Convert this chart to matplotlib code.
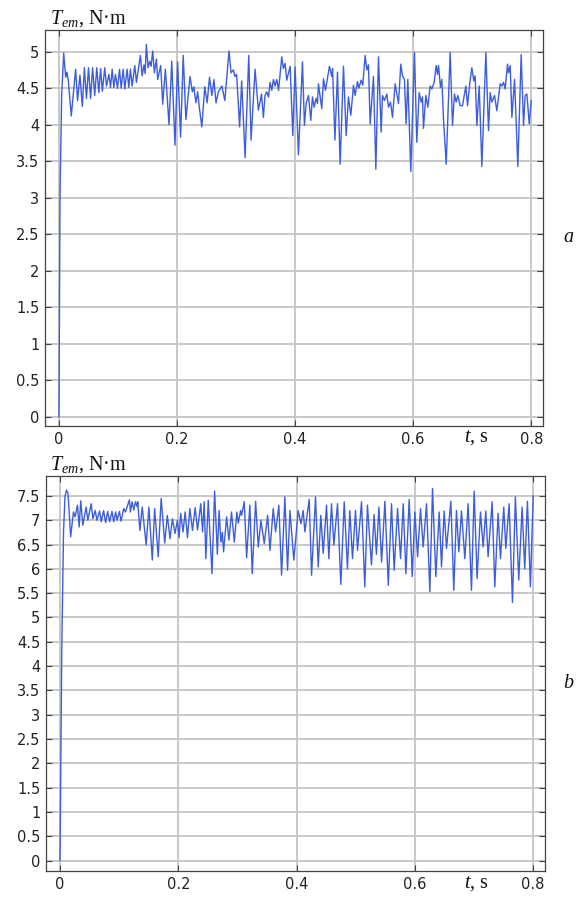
import matplotlib
matplotlib.use("Agg")
import matplotlib.pyplot as plt
from matplotlib.ticker import FuncFormatter, MultipleLocator

# electromagnetic torque, case a
t_a = [0.0000, 0.0017, 0.0045, 0.0080, 0.0113, 0.0135, 0.0158, 0.0208, 0.0282, 0.0315,
       0.0355, 0.0395, 0.0430, 0.0465, 0.0500, 0.0535, 0.0570, 0.0605, 0.0640, 0.0675,
       0.0705, 0.0735, 0.0775, 0.0805, 0.0845, 0.0873, 0.0901, 0.0929, 0.0957, 0.0991,
       0.1025, 0.1053, 0.1087, 0.1115, 0.1154, 0.1182, 0.1210, 0.1239, 0.1284, 0.1312,
       0.1379, 0.1408, 0.1440, 0.1460, 0.1480, 0.1509, 0.1537, 0.1560, 0.1588, 0.1616,
       0.1650, 0.1672, 0.1723, 0.1757, 0.1802, 0.1864, 0.1910, 0.1965, 0.2010, 0.2060,
       0.2105, 0.2150, 0.2220, 0.2260, 0.2285, 0.2320, 0.2350, 0.2380, 0.2420, 0.2470,
       0.2510, 0.2550, 0.2590, 0.2625, 0.2660, 0.2700, 0.2760, 0.2810, 0.2880, 0.2915,
       0.2955, 0.2980, 0.3010, 0.3060, 0.3095, 0.3153, 0.3215, 0.3254, 0.3322, 0.3378,
       0.3410, 0.3430, 0.3463, 0.3490, 0.3520, 0.3550, 0.3576, 0.3605, 0.3633, 0.3660,
       0.3690, 0.3720, 0.3774, 0.3802, 0.3830, 0.3859, 0.3916, 0.3961, 0.4000, 0.4057,
       0.4125, 0.4158, 0.4187, 0.4226, 0.4266, 0.4294, 0.4322, 0.4356, 0.4379, 0.4396,
       0.4452, 0.4481, 0.4514, 0.4582, 0.4622, 0.4635, 0.4675, 0.4718, 0.4763, 0.4820,
       0.4865, 0.4904, 0.4944, 0.4989, 0.5017, 0.5057, 0.5080, 0.5119, 0.5147, 0.5187,
       0.5215, 0.5243, 0.5272, 0.5328, 0.5368, 0.5413, 0.5458, 0.5480, 0.5514, 0.5554,
       0.5582, 0.5616, 0.5650, 0.5695, 0.5752, 0.5791, 0.5820, 0.5853, 0.5881, 0.5910,
       0.5960, 0.6023, 0.6062, 0.6102, 0.6136, 0.6158, 0.6175, 0.6215, 0.6249, 0.6288,
       0.6317, 0.6356, 0.6390, 0.6413, 0.6430, 0.6463, 0.6486, 0.6514, 0.6560, 0.6627,
       0.6667, 0.6700, 0.6729, 0.6757, 0.6797, 0.6836, 0.6893, 0.6921, 0.6961, 0.6995,
       0.7028, 0.7051, 0.7080, 0.7119, 0.7164, 0.7232, 0.7277, 0.7305, 0.7334, 0.7379,
       0.7418, 0.7475, 0.7503, 0.7531, 0.7559, 0.7599, 0.7616, 0.7644, 0.7673, 0.7718,
       0.7774, 0.7830, 0.7870, 0.7898, 0.7927, 0.7967, 0.8000]
torque_a = [0.00, 3.00, 4.40, 4.98, 4.65, 4.72, 4.60, 4.12, 4.76, 4.33,
            4.68, 4.25, 4.78, 4.36, 4.78, 4.36, 4.78, 4.40, 4.78, 4.44,
            4.77, 4.46, 4.78, 4.53, 4.69, 4.51, 4.76, 4.51, 4.69, 4.50,
            4.76, 4.50, 4.76, 4.49, 4.76, 4.51, 4.76, 4.53, 4.81, 4.58,
            4.95, 4.67, 4.82, 4.70, 5.10, 4.78, 4.87, 4.80, 5.01, 4.71,
            4.90, 4.62, 4.81, 4.28, 4.76, 4.00, 4.87, 3.72, 4.86, 3.83,
            4.95, 4.07, 4.66, 4.45, 4.52, 4.30, 4.45, 4.22, 3.97, 4.52,
            4.30, 4.65, 4.40, 4.62, 4.30, 4.45, 4.53, 4.33, 5.01, 4.71,
            4.75, 4.66, 4.69, 3.97, 4.60, 3.55, 4.95, 3.79, 4.76, 4.20,
            4.33, 4.42, 4.10, 4.40, 4.45, 4.38, 4.58, 4.47, 4.62, 4.53,
            4.62, 4.47, 4.93, 4.77, 4.84, 4.61, 4.80, 3.85, 4.79, 3.59,
            4.86, 3.99, 4.29, 4.40, 4.06, 4.38, 4.24, 4.36, 4.29, 4.56,
            4.22, 4.63, 4.47, 4.80, 4.66, 4.77, 3.79, 4.72, 3.46, 4.80,
            3.85, 4.38, 4.13, 4.54, 4.40, 4.59, 4.50, 4.61, 4.54, 4.95,
            4.75, 4.82, 4.01, 4.66, 3.39, 4.93, 3.90, 4.40, 4.33, 4.42,
            4.24, 4.31, 4.10, 4.56, 4.29, 4.83, 4.67, 4.62, 4.01, 4.62,
            3.36, 4.99, 3.76, 4.44, 4.31, 4.38, 3.95, 4.40, 4.24, 4.53,
            4.49, 4.58, 4.81, 4.69, 4.81, 4.51, 4.62, 4.08, 3.46, 4.99,
            3.99, 4.42, 4.31, 4.40, 4.26, 4.26, 4.53, 4.26, 4.58, 4.78,
            4.60, 4.67, 3.99, 4.53, 3.43, 4.99, 3.92, 4.44, 4.31, 4.40,
            4.19, 4.56, 4.53, 4.58, 4.49, 4.83, 4.71, 4.81, 4.10, 4.62,
            3.43, 4.96, 3.99, 4.40, 4.42, 4.01, 4.33]

# electromagnetic torque, case b
t_b = [0.0000, 0.0030, 0.0060, 0.0085, 0.0110, 0.0135, 0.0180, 0.0227, 0.0255, 0.0295,
       0.0323, 0.0350, 0.0386, 0.0442, 0.0470, 0.0527, 0.0556, 0.0595, 0.0624, 0.0669,
       0.0697, 0.0737, 0.0771, 0.0805, 0.0839, 0.0879, 0.0907, 0.0941, 0.0964, 0.1004,
       0.1032, 0.1077, 0.1106, 0.1174, 0.1190, 0.1220, 0.1247, 0.1276, 0.1304, 0.1315,
       0.1350, 0.1390, 0.1457, 0.1503, 0.1560, 0.1600, 0.1660, 0.1710, 0.1770, 0.1814,
       0.1860, 0.1900, 0.1945, 0.1985, 0.2013, 0.2040, 0.2080, 0.2115, 0.2155, 0.2195,
       0.2240, 0.2285, 0.2325, 0.2380, 0.2410, 0.2438, 0.2466, 0.2506, 0.2569, 0.2614,
       0.2660, 0.2690, 0.2720, 0.2745, 0.2765, 0.2817, 0.2856, 0.2900, 0.2947, 0.2990,
       0.3014, 0.3053, 0.3070, 0.3115, 0.3155, 0.3210, 0.3250, 0.3307, 0.3352, 0.3397,
       0.3453, 0.3510, 0.3550, 0.3605, 0.3645, 0.3700, 0.3746, 0.3802, 0.3847, 0.3887,
       0.3953, 0.4027, 0.4073, 0.4112, 0.4140, 0.4213, 0.4253, 0.4320, 0.4365, 0.4410,
       0.4450, 0.4506, 0.4545, 0.4590, 0.4630, 0.4692, 0.4748, 0.4805, 0.4860, 0.4900,
       0.4945, 0.4996, 0.5030, 0.5098, 0.5153, 0.5198, 0.5266, 0.5310, 0.5350, 0.5392,
       0.5437, 0.5493, 0.5550, 0.5605, 0.5650, 0.5707, 0.5758, 0.5803, 0.5848, 0.5904,
       0.5955, 0.6000, 0.6045, 0.6095, 0.6140, 0.6197, 0.6253, 0.6298, 0.6354, 0.6411,
       0.6450, 0.6495, 0.6535, 0.6608, 0.6658, 0.6703, 0.6743, 0.6788, 0.6844, 0.6900,
       0.6957, 0.7002, 0.7052, 0.7109, 0.7154, 0.7199, 0.7238, 0.7306, 0.7351, 0.7407,
       0.7447, 0.7503, 0.7537, 0.7593, 0.7650, 0.7699, 0.7756, 0.7813, 0.7857, 0.7903,
       0.7953, 0.8000]
torque_b = [0.00, 4.40, 6.80, 7.50, 7.62, 7.55, 6.66, 7.17, 7.07, 7.31,
            6.86, 7.40, 6.90, 7.27, 7.00, 7.34, 7.03, 7.20, 7.00, 7.19,
            6.97, 7.20, 6.95, 7.18, 6.97, 7.18, 6.97, 7.17, 7.00, 7.18,
            6.98, 7.24, 7.17, 7.42, 7.17, 7.38, 7.21, 7.38, 7.28, 7.38,
            6.79, 7.27, 6.49, 7.27, 6.18, 7.24, 6.25, 7.45, 6.53, 7.10,
            6.62, 7.03, 6.73, 7.00, 6.64, 7.14, 6.76, 7.17, 6.64, 7.24,
            6.79, 7.26, 6.80, 7.34, 6.76, 7.38, 6.21, 7.41, 5.90, 7.60,
            6.30, 7.20, 6.55, 6.75, 6.35, 7.07, 6.59, 7.17, 6.55, 7.17,
            6.94, 7.20, 7.10, 7.38, 6.23, 7.31, 5.90, 7.39, 6.45, 7.00,
            6.52, 7.10, 6.38, 7.24, 6.76, 7.31, 5.87, 7.48, 5.97, 7.20,
            6.18, 7.20, 6.93, 7.20, 6.76, 7.43, 5.87, 7.48, 6.04, 7.10,
            6.32, 7.31, 6.21, 7.34, 6.49, 7.34, 5.68, 7.38, 6.00, 7.20,
            6.21, 7.20, 6.38, 7.38, 5.63, 7.31, 6.08, 7.12, 6.30, 7.27,
            6.14, 7.39, 5.66, 7.34, 5.97, 7.24, 6.21, 7.34, 5.90, 7.43,
            5.84, 7.17, 6.25, 7.24, 6.45, 7.34, 5.53, 7.65, 5.84, 7.17,
            6.04, 7.19, 6.42, 7.39, 5.56, 7.20, 6.35, 7.19, 6.21, 7.34,
            5.56, 7.60, 5.80, 7.17, 6.45, 7.19, 6.25, 7.38, 5.63, 7.14,
            6.21, 7.27, 6.42, 7.34, 5.31, 7.48, 5.77, 7.27, 6.00, 7.39,
            5.63, 7.50]

x_ticks = [0, 0.2, 0.4, 0.6, 0.8]

W, H = 583, 901
plt.rcParams['mathtext.fontset'] = 'custom'
plt.rcParams['mathtext.rm'] = 'Liberation Serif'
plt.rcParams['mathtext.it'] = 'Liberation Serif:italic'

fig = plt.figure(figsize=(W / 100, H / 100), dpi=100)


def px_box(left, top, right, bottom):
    # axes rectangle from pixel edges
    return [left / W, 1 - bottom / H, (right - left) / W, (bottom - top) / H]


def fig_text(x, y, s, **kw):
    fig.text(x / W, 1 - y / H, s, **kw)


def setup_panel(ax, t, v, ylim, ystep):
    ax.plot(t, v, color='#3d5ddb', lw=1.0)
    ax.set_xlim(-0.0237, 0.8200)
    ax.set_ylim(*ylim)
    ax.set_xticks(x_ticks)
    ax.yaxis.set_major_locator(MultipleLocator(ystep))
    fmt = FuncFormatter(lambda val, pos: '%g' % round(val, 2))
    ax.xaxis.set_major_formatter(fmt)
    ax.yaxis.set_major_formatter(fmt)
    ax.grid(True, color='#c4c4c4', lw=1.3)
    ax.set_axisbelow(True)
    ax.tick_params(direction='in', length=4, width=0.8, color='#444444',
                   top=True, right=True, labelsize=10.5, labelcolor='#222222', pad=4)
    for sp in ax.spines.values():
        sp.set_color('#444444')
        sp.set_linewidth(0.9)


ax_a = fig.add_axes(px_box(45, 30, 543, 426))
setup_panel(ax_a, t_a, torque_a, (-0.125, 5.297), 0.5)

ax_b = fig.add_axes(px_box(46, 476, 545, 871))
setup_panel(ax_b, t_b, torque_b, (-0.215, 7.91), 0.5)

serif = dict(family='Liberation Serif', color='#111111')
fig_text(50, 24, r'$T_{em}$, N·m', fontsize=14.5, ha='left', va='baseline', **serif)
fig_text(50, 470, r'$T_{em}$, N·m', fontsize=14.5, ha='left', va='baseline', **serif)
fig_text(464, 442, r'$t$, s', fontsize=14.5, ha='left', va='baseline', **serif)
fig_text(464, 888, r'$t$, s', fontsize=14.5, ha='left', va='baseline', **serif)
fig_text(568, 238, 'a', fontsize=14.5, style='italic', ha='center', va='center', **serif)
fig_text(568, 684, 'b', fontsize=14.5, style='italic', ha='center', va='center', **serif)

fig.savefig('out.png', dpi=100)
